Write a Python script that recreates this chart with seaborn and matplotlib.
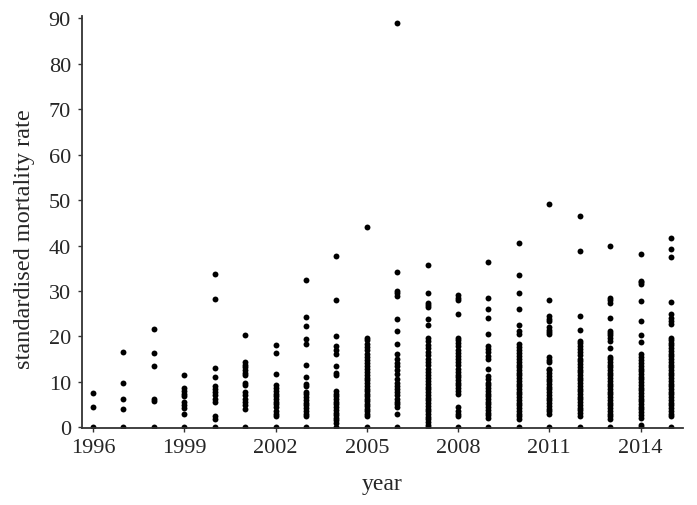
import pandas as pd
import seaborn as sns
import matplotlib.pyplot as plt

# standardised mortality rates per year
y1996 = [0, 4.4, 7.5]
y1997 = [0, 4.0, 6.2, 9.7, 16.5]
y1998 = [0, 5.7, 6.2, 13.4, 16.3, 21.7]
y1999 = [0, 3.0, 4.2, 4.8, 5.5, 6.8, 7.3, 8.0, 8.6, 11.5]
y2000 = [0, 1.8, 2.5, 5.5, 6.2, 7.0, 7.8, 8.3, 9.1, 11.1, 13.0, 28.2, 33.7]
y2001 = [0, 4.0, 4.8, 5.5, 6.2, 7.0, 7.7, 9.3, 9.8, 11.4, 12.0, 12.6, 13.2, 13.8, 14.4, 20.2]
y2002 = [0, 2.4, 3.0, 3.5, 4.4, 5.0, 5.6, 6.2, 6.8, 7.4, 8.0, 8.6, 9.2, 11.7, 16.4, 18.0]
y2003 = [0, 2.4, 3.0, 3.6, 4.2, 4.8, 5.4, 6.0, 6.6, 7.2, 7.7, 9.1, 9.5, 11.1, 13.6,
         18.3, 19.4, 22.3, 24.3, 32.4]
y2004 = [0, 1.0, 1.5, 2.0, 2.6, 3.2, 3.8, 4.4, 5.0, 5.6, 6.2, 6.8, 7.4, 8.0, 11.4, 11.9,
         13.4, 16.1, 17.0, 17.9, 20.0, 28.0, 37.6]
y2005 = [0, 2.4, 2.9, 3.5, 4.0, 4.6, 5.1, 5.7, 6.3, 6.8, 7.4, 8.0, 8.5, 9.1, 9.7, 10.3,
         10.9, 11.6, 12.2, 12.8, 13.5, 14.1, 14.8, 15.5, 16.2, 16.9, 17.6, 18.4, 19.1,
         19.7, 44.0]
y2006 = [0, 2.9, 4.4, 5.0, 5.6, 6.3, 7.0, 7.8, 8.4, 9.1, 9.8, 10.5, 11.8, 12.5, 13.4,
         14.2, 15.0, 16.1, 18.3, 21.2, 23.8, 28.9, 29.5, 30.0, 34.2, 89.0]
y2007 = [0, 0.5, 1.1, 1.7, 2.3, 2.9, 3.5, 4.1, 4.7, 5.3, 5.9, 6.5, 7.1, 7.7, 8.3, 8.9,
         9.5, 10.1, 10.8, 11.5, 12.2, 12.9, 13.6, 14.3, 15.0, 15.8, 16.6, 17.4, 18.2,
         19.0, 19.7, 22.4, 23.8, 26.4, 26.9, 27.3, 29.5, 35.7]
y2008 = [0, 2.4, 3.0, 3.6, 4.4, 7.4, 8.0, 8.6, 9.2, 9.8, 10.4, 11.0, 11.6, 12.2, 12.9,
         13.6, 14.3, 15.0, 15.7, 16.4, 17.1, 17.8, 18.5, 19.2, 19.6, 25.0, 28.0, 28.5, 29.0]
y2009 = [0, 2.1, 2.6, 3.2, 3.8, 4.4, 5.0, 5.6, 6.2, 6.8, 7.4, 8.0, 8.6, 9.2, 9.8, 10.5,
         11.3, 12.8, 15.0, 15.7, 16.5, 17.2, 17.9, 20.6, 24.1, 26.1, 28.4, 36.4]
y2010 = [0, 1.8, 2.4, 3.0, 3.6, 4.2, 4.8, 5.4, 6.0, 6.6, 7.2, 7.8, 8.4, 9.0, 9.6, 10.2,
         10.8, 11.4, 12.0, 12.6, 13.2, 13.8, 14.4, 15.0, 15.7, 16.4, 17.1, 17.7, 18.3,
         20.5, 21.2, 22.5, 26.1, 29.6, 33.5, 40.5]
y2011 = [0, 2.9, 3.5, 4.1, 4.7, 5.3, 5.9, 6.5, 7.1, 7.7, 8.3, 8.9, 9.5, 10.1, 10.7, 11.3,
         11.9, 12.5, 12.8, 14.3, 14.9, 15.4, 20.5, 21.0, 21.5, 22.0, 23.4, 23.9, 24.5,
         27.9, 49.1]
y2012 = [0, 2.5, 3.1, 3.7, 4.3, 4.9, 5.5, 6.1, 6.7, 7.3, 7.9, 8.5, 9.1, 9.7, 10.3, 10.9,
         11.5, 12.1, 12.7, 13.3, 13.9, 14.5, 15.1, 15.8, 16.5, 17.2, 17.9, 18.5, 19.0,
         21.4, 24.5, 38.8, 46.5]
y2013 = [0, 1.8, 2.4, 3.0, 3.6, 4.2, 4.8, 5.4, 6.0, 6.6, 7.2, 7.8, 8.4, 9.0, 9.6, 10.2,
         10.8, 11.4, 12.0, 12.6, 13.2, 13.8, 14.4, 15.0, 15.4, 17.5, 19.0, 19.6, 20.2,
         20.7, 21.2, 24.1, 27.3, 27.9, 28.5, 39.9]
y2014 = [0, 0.5, 2.1, 2.7, 3.3, 3.9, 4.5, 5.1, 5.7, 6.3, 6.9, 7.5, 8.1, 8.7, 9.3, 9.9,
         10.5, 11.1, 11.7, 12.3, 12.9, 13.5, 14.1, 14.7, 15.4, 16.1, 18.8, 20.2, 23.4,
         27.8, 31.5, 31.9, 32.2, 38.1]
y2015 = [0, 2.4, 3.0, 3.6, 4.2, 4.8, 5.4, 6.0, 6.6, 7.2, 7.8, 8.4, 9.0, 9.6, 10.2, 10.8,
         11.4, 12.0, 12.6, 13.2, 13.8, 14.4, 15.0, 15.6, 16.2, 16.8, 17.4, 18.0, 18.6,
         19.2, 19.7, 22.7, 23.4, 24.1, 24.9, 27.6, 37.5, 39.3, 41.7]

years = list(range(1996, 2016))
rates = [y1996, y1997, y1998, y1999, y2000, y2001, y2002, y2003, y2004, y2005,
         y2006, y2007, y2008, y2009, y2010, y2011, y2012, y2013, y2014, y2015]
xticks = [1996, 1999, 2002, 2005, 2008, 2011, 2014]
yticks = [0, 10, 20, 30, 40, 50, 60, 70, 80, 90]

rows = []
for yr, vals in zip(years, rates):
    for v in vals:
        rows.append((yr, v))
df = pd.DataFrame(rows, columns=["year", "rate"])

sns.set_style("ticks")
plt.rcParams['font.family'] = ['Liberation Serif', 'DejaVu Serif']

fig = plt.figure(figsize=(6.97, 5.06), dpi=100)
ax = fig.add_axes([0.1177, 0.152, 0.862, 0.814])
sns.scatterplot(data=df, x="year", y="rate", color="black", s=18, linewidth=0, ax=ax)

ax.set_xlim(1995.64, 2015.39)
ax.set_ylim(-0.2, 90.5)
ax.set_xticks(xticks)
ax.set_yticks(yticks)
ax.tick_params(axis="both", labelsize=16, length=3, width=1, color="#333333")
ax.tick_params(axis="y", pad=5)
ax.tick_params(axis="x", pad=4)
ax.set_xlabel("year", fontsize=17, labelpad=12)
ax.set_ylabel("standardised mortality rate", fontsize=17.5)
ax.yaxis.set_label_coords(-0.078, 0.46)
for s in ["top", "right"]:
    ax.spines[s].set_visible(False)
for s in ["left", "bottom"]:
    ax.spines[s].set_linewidth(1.3)
    ax.spines[s].set_color("#333333")

fig.savefig("out.png", dpi=100)
